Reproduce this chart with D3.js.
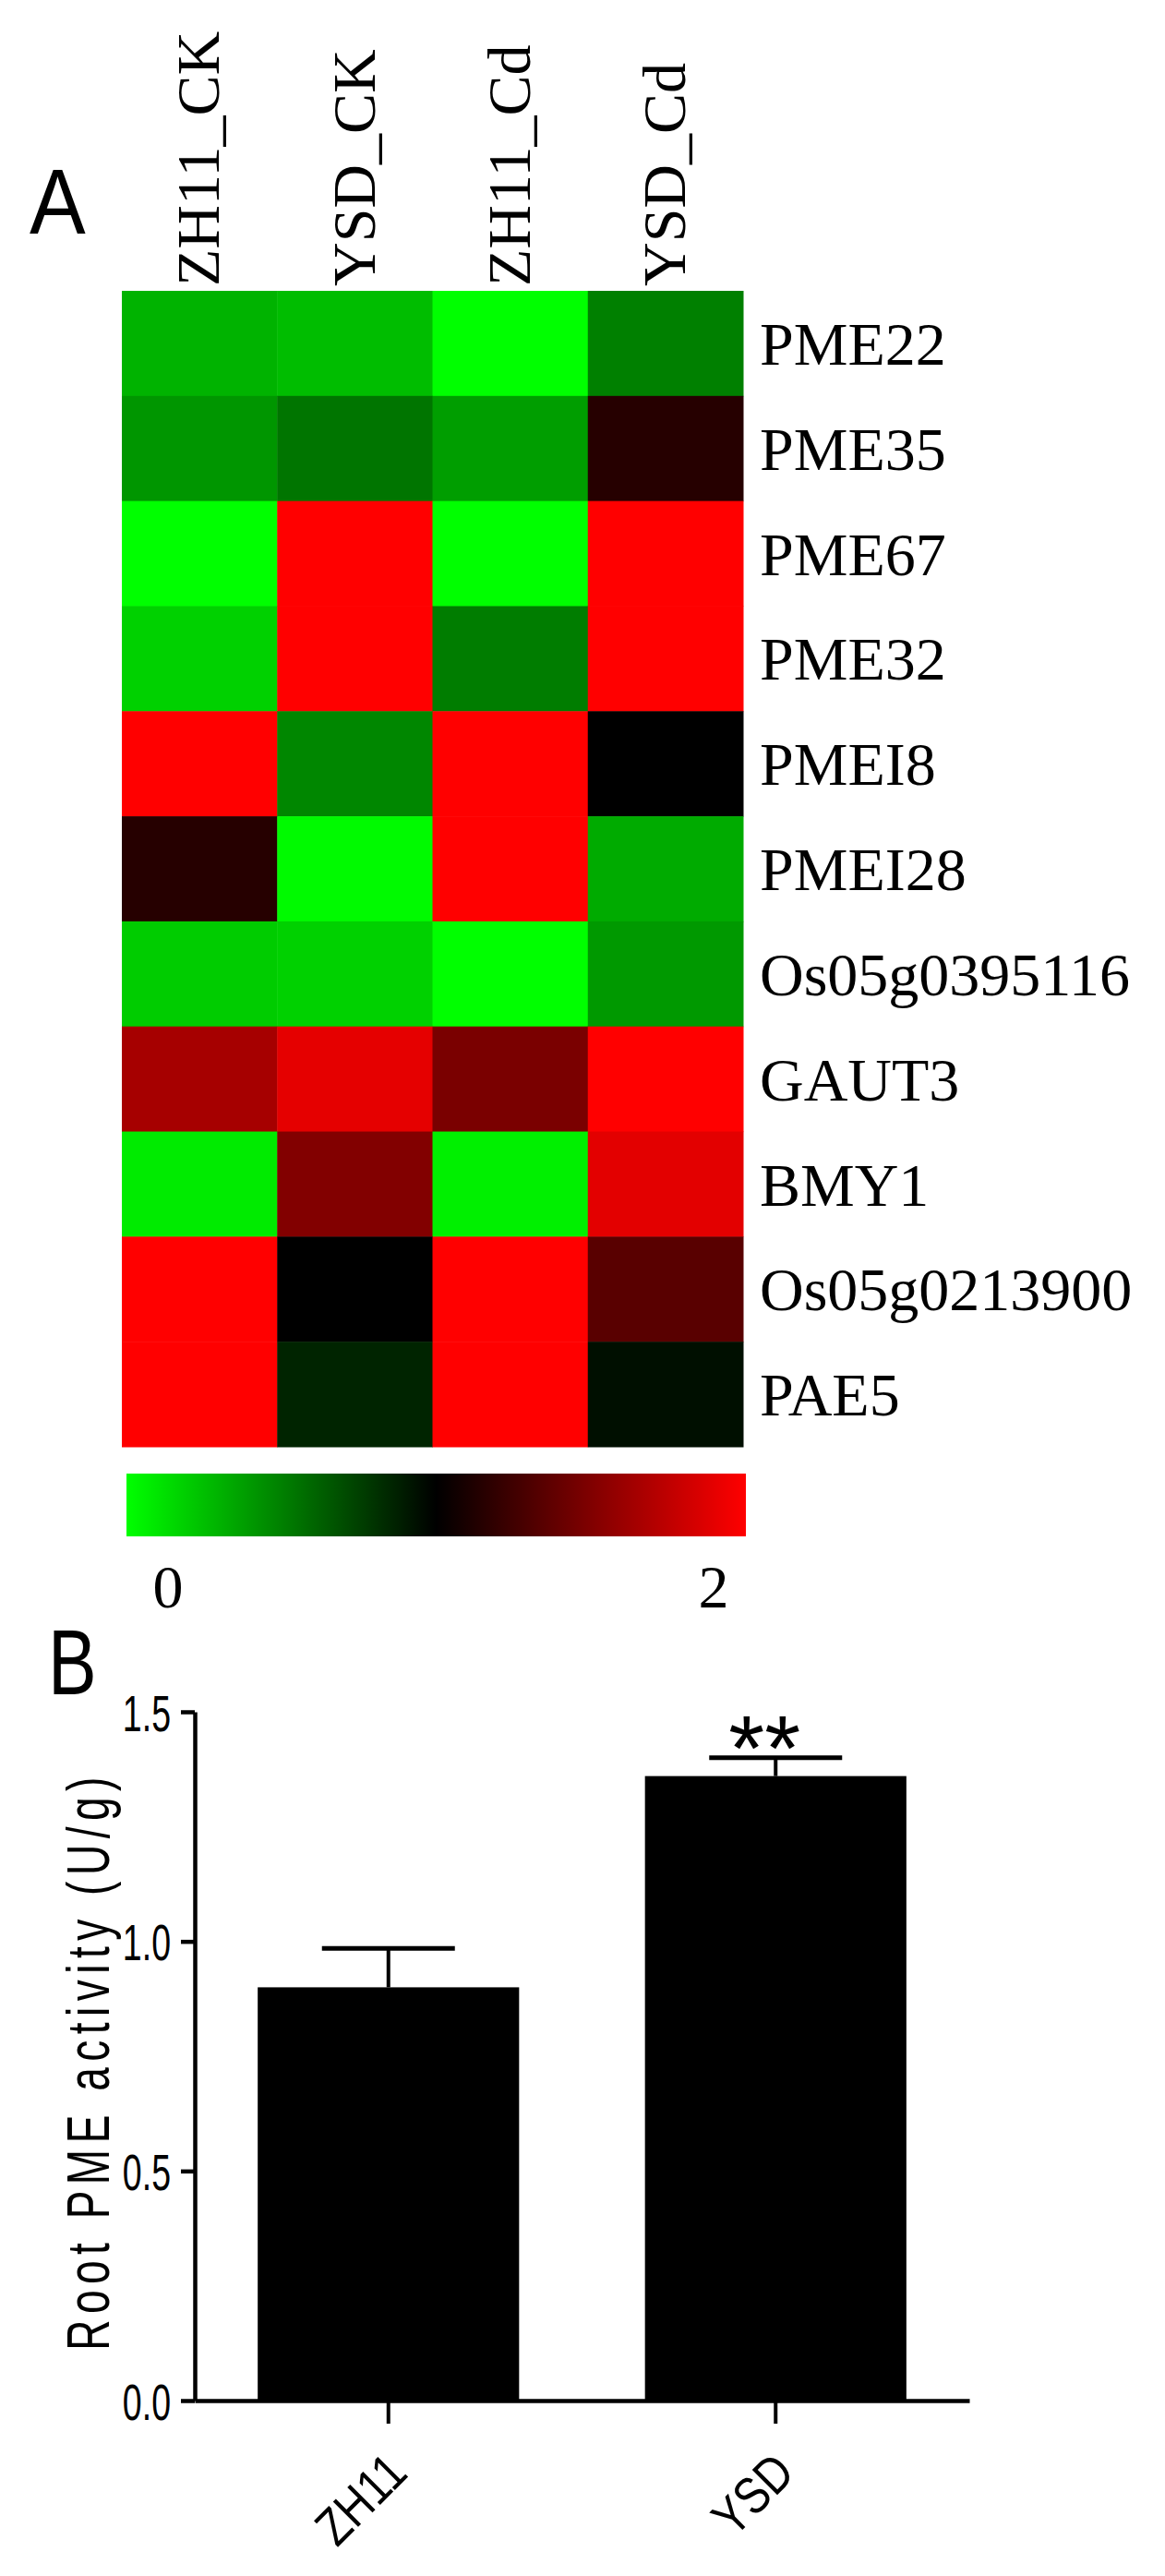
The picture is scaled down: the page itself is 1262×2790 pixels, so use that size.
<!DOCTYPE html>
<html>
<head>
<meta charset="utf-8">
<script src="https://cdn.jsdelivr.net/npm/d3@7"></script>
<style>
body { margin: 0; background: #fff; }
svg { display: block; }
</style>
</head>
<body>
<svg width="1262" height="2790"></svg>
<script>
// panel A: heatmap values (0 = green, 1 = black, 2 = red)
var samples = ["ZH11_CK", "YSD_CK", "ZH11_Cd", "YSD_Cd"];
var genes = ["PME22", "PME35", "PME67", "PME32", "PMEI8", "PMEI28", "Os05g0395116", "GAUT3", "BMY1", "Os05g0213900", "PAE5"];
var zh11CK = [0.30, 0.41, 0.00, 0.18, 2.00, 1.15, 0.20, 1.65, 0.08, 2.00, 2.00];
var ysdCK = [0.26, 0.54, 2.00, 2.00, 0.47, 0.02, 0.18, 1.90, 1.51, 1.00, 0.86];
var zh11Cd = [0.00, 0.38, 0.00, 0.51, 2.00, 2.00, 0.00, 1.48, 0.06, 2.00, 2.00];
var ysdCd = [0.50, 1.15, 2.00, 2.00, 1.00, 0.33, 0.40, 2.00, 1.89, 1.35, 0.94];
var legendTicks = [0, 2];

// panel B: root PME activity
var cultivars = ["ZH11", "YSD"];
var pmeActivity = [0.90, 1.36];
var pmeError = [0.085, 0.04];
var yTicks = [0, 0.5, 1.0, 1.5];

var svg = d3.select("svg");
var serif = "'Liberation Serif', 'Times New Roman', serif";
var sans = "'Liberation Sans', Arial, sans-serif";

var columns = [zh11CK, ysdCK, zh11Cd, ysdCd];
var cells = [];
genes.forEach(function (g, r) {
	samples.forEach(function (s, c) {
		cells.push({gene: g, sample: s, value: columns[c][r]});
	});
});

var color = d3.scaleLinear()
	.domain([0, 1, 2])
	.range(["#00ff00", "#000000", "#ff0000"])
	.clamp(true);

var hx = d3.scaleBand().domain(samples).range([132, 805]);
var hy = d3.scaleBand().domain(genes).range([315, 1567]);

// panel letters
svg.append("text")
	.attr("transform", "translate(32,253) scale(0.91,1)")
	.attr("font-family", sans)
	.attr("font-size", 100)
	.text("A");

svg.append("text")
	.attr("transform", "translate(52,1835) scale(0.79,1)")
	.attr("font-family", sans)
	.attr("font-size", 100)
	.text("B");

// heatmap
svg.append("g")
	.selectAll("rect")
	.data(cells)
	.enter().append("rect")
	.attr("x", function (d) { return hx(d.sample); })
	.attr("y", function (d) { return hy(d.gene); })
	.attr("width", hx.bandwidth() + 0.5)
	.attr("height", hy.bandwidth() + 0.5)
	.attr("fill", function (d) { return color(d.value); });

svg.append("g")
	.attr("font-family", serif)
	.attr("font-size", 66)
	.selectAll("text")
	.data(samples)
	.enter().append("text")
	.attr("transform", function (d) {
		return "translate(" + (hx(d) + hx.bandwidth() / 2) + ",310) rotate(-90)";
	})
	.attr("dy", "0.32em")
	.text(function (d) { return d; });

svg.append("g")
	.attr("font-family", serif)
	.attr("font-size", 66)
	.selectAll("text")
	.data(genes)
	.enter().append("text")
	.attr("x", 823)
	.attr("y", function (d) { return hy(d) + hy.bandwidth() / 2; })
	.attr("dy", "0.35em")
	.text(function (d) { return d; });

// colour bar
var cbX = d3.scaleLinear().domain([0, 2]).range([137, 808]);
var grad = svg.append("defs").append("linearGradient")
	.attr("id", "cb")
	.attr("x1", "0%").attr("x2", "100%");
grad.selectAll("stop")
	.data(d3.range(0, 2.001, 0.25))
	.enter().append("stop")
	.attr("offset", function (d) { return (d / 2 * 100) + "%"; })
	.attr("stop-color", color);

svg.append("rect")
	.attr("x", cbX(0))
	.attr("y", 1596)
	.attr("width", cbX(2) - cbX(0))
	.attr("height", 68)
	.attr("fill", "url(#cb)");

var cbLabel = d3.scaleLinear().domain([0, 2]).range([182, 773]);
svg.append("g")
	.attr("font-family", serif)
	.attr("font-size", 66)
	.attr("text-anchor", "middle")
	.selectAll("text")
	.data(legendTicks)
	.enter().append("text")
	.attr("x", cbLabel)
	.attr("y", 1741)
	.text(function (d) { return d; });

// bar chart
var x = d3.scaleBand()
	.domain(cultivars)
	.range([211, 1050])
	.paddingInner(0.325)
	.paddingOuter(0.1625);

var y = d3.scaleLinear()
	.domain([0, 1.5])
	.range([2600, 1854]);

var bars = cultivars.map(function (c, i) {
	return {name: c, value: pmeActivity[i], se: pmeError[i]};
});

svg.append("g")
	.selectAll("rect")
	.data(bars)
	.enter().append("rect")
	.attr("x", function (d) { return x(d.name); })
	.attr("y", function (d) { return y(d.value); })
	.attr("width", x.bandwidth())
	.attr("height", function (d) { return y(0) - y(d.value); })
	.attr("fill", "#000");

var err = svg.append("g")
	.attr("stroke", "#000")
	.selectAll("g")
	.data(bars)
	.enter().append("g");

err.append("line")
	.attr("x1", function (d) { return x(d.name) + x.bandwidth() / 2; })
	.attr("x2", function (d) { return x(d.name) + x.bandwidth() / 2; })
	.attr("y1", function (d) { return y(d.value); })
	.attr("y2", function (d) { return y(d.value + d.se); })
	.attr("stroke-width", 4);

err.append("line")
	.attr("x1", function (d) { return x(d.name) + x.bandwidth() / 2 - 72; })
	.attr("x2", function (d) { return x(d.name) + x.bandwidth() / 2 + 72; })
	.attr("y1", function (d) { return y(d.value + d.se); })
	.attr("y2", function (d) { return y(d.value + d.se); })
	.attr("stroke-width", 5);

// significance mark on YSD
svg.append("text")
	.attr("x", x("YSD") + x.bandwidth() / 2 - 12)
	.attr("y", y(pmeActivity[1] + pmeError[1]) + 24)
	.attr("text-anchor", "middle")
	.attr("font-family", sans)
	.attr("font-size", 100)
	.text("**");

var yAxis = svg.append("g")
	.attr("transform", "translate(211,0)")
	.call(d3.axisLeft(y)
		.tickValues(yTicks)
		.tickFormat(d3.format(".1f"))
		.tickSize(15)
		.tickSizeOuter(0));
yAxis.select(".domain").attr("stroke-width", 4.5);
yAxis.selectAll(".tick line").attr("stroke-width", 4.5);
yAxis.selectAll(".tick text")
	.attr("font-family", sans)
	.attr("font-size", 56)
	.attr("transform", "scale(0.67,1)")
	.attr("x", -26 / 0.67)
	.attr("dy", "0.36em");

var xAxis = svg.append("g")
	.attr("transform", "translate(0,2600)")
	.call(d3.axisBottom(x).tickSize(25).tickSizeOuter(0));
xAxis.select(".domain").attr("stroke-width", 4.5);
xAxis.selectAll(".tick line").attr("stroke-width", 4);
xAxis.selectAll(".tick text")
	.attr("font-family", sans)
	.attr("font-size", 56)
	.attr("text-anchor", "end")
	.attr("x", 0)
	.attr("y", 0)
	.attr("dy", 0)
	.attr("transform", "translate(23,81) rotate(-45) scale(0.84,1)");

svg.append("text")
	.attr("transform", "translate(118,2232) rotate(-90) scale(0.72,1)")
	.attr("text-anchor", "middle")
	.attr("font-family", sans)
	.attr("font-size", 64)
	.attr("letter-spacing", 9)
	.text("Root PME activity (U/g)");
</script>
</body>
</html>
